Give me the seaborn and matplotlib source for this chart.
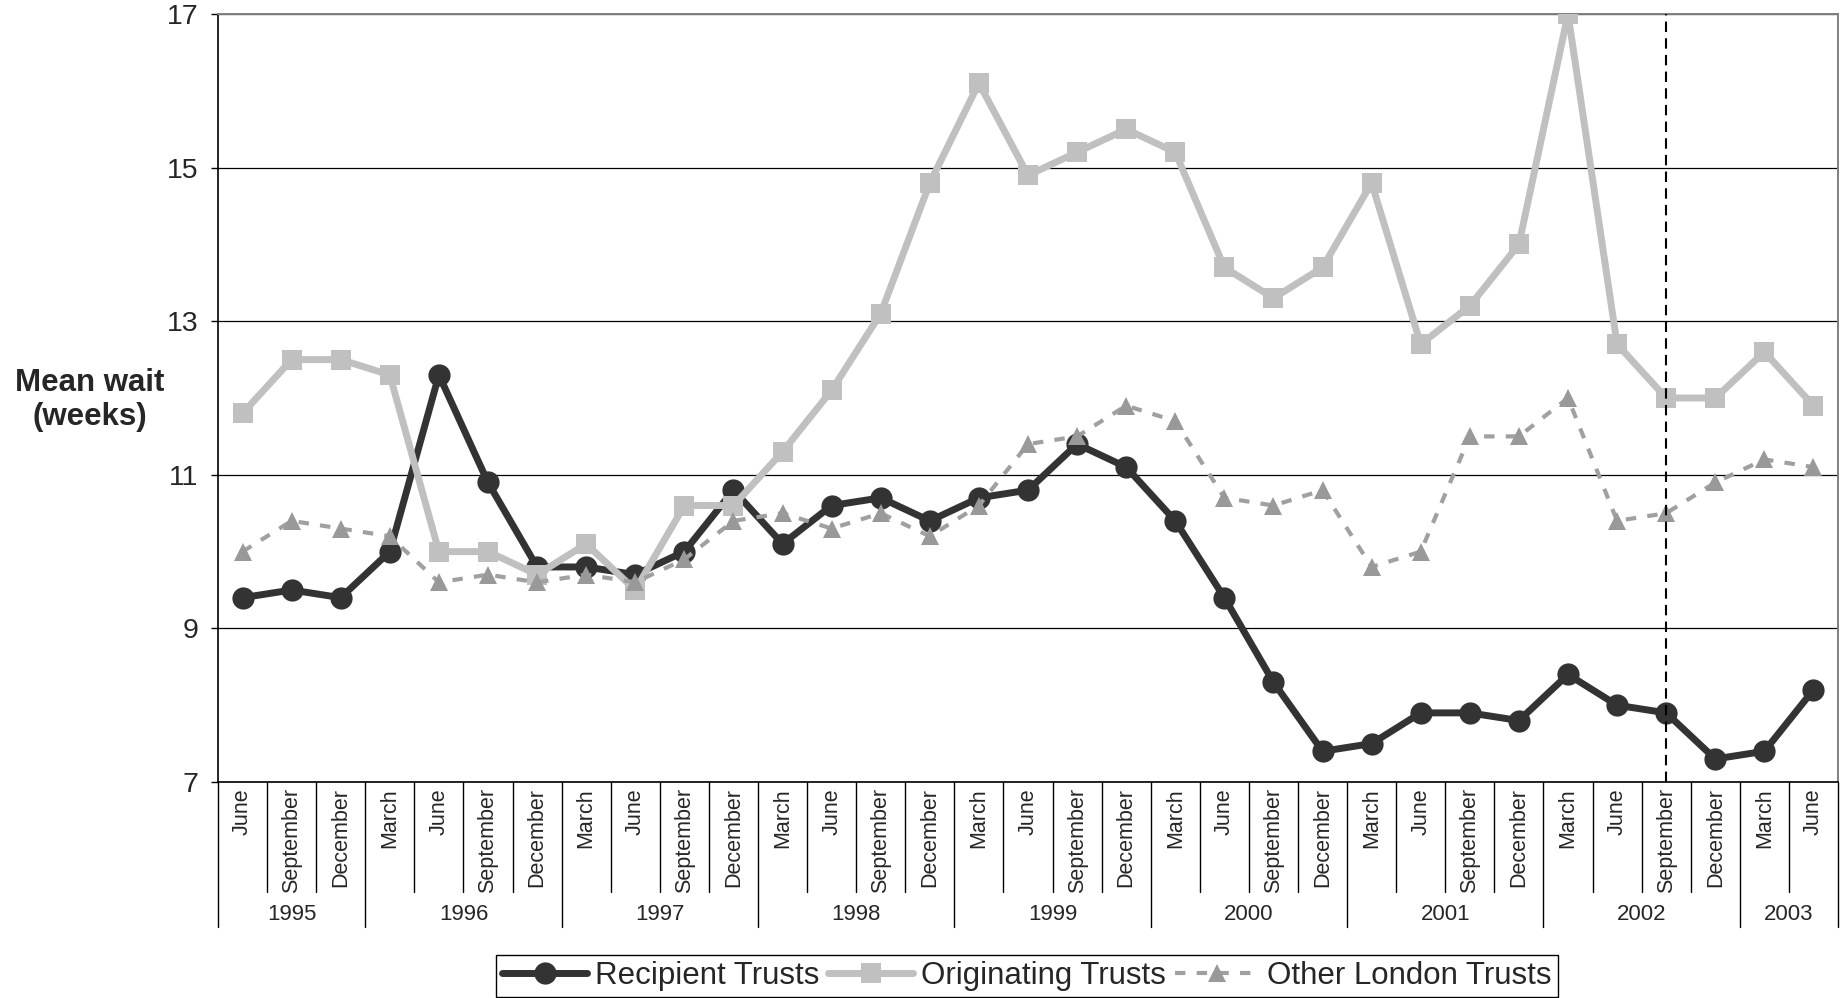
import matplotlib
matplotlib.use("Agg")
import matplotlib.pyplot as plt
import seaborn as sns
import numpy as np
import pandas as pd

# ---------------- data ----------------
months = ["June", "September", "December",
          "March", "June", "September", "December",
          "March", "June", "September", "December",
          "March", "June", "September", "December",
          "March", "June", "September", "December",
          "March", "June", "September", "December",
          "March", "June", "September", "December",
          "March", "June", "September", "December",
          "March", "June"]
years = ["1995", "1996", "1997", "1998", "1999", "2000", "2001", "2002", "2003"]
months_per_year = [3, 4, 4, 4, 4, 4, 4, 4, 2]

recipient = [9.4, 9.5, 9.4, 10.0, 12.3, 10.9, 9.8, 9.8, 9.7, 10.0, 10.8,
             10.1, 10.6, 10.7, 10.4, 10.7, 10.8, 11.4, 11.1, 10.4, 9.4, 8.3,
             7.4, 7.5, 7.9, 7.9, 7.8, 8.4, 8.0, 7.9, 7.3, 7.4, 8.2]
originating = [11.8, 12.5, 12.5, 12.3, 10.0, 10.0, 9.7, 10.1, 9.5, 10.6, 10.6,
               11.3, 12.1, 13.1, 14.8, 16.1, 14.9, 15.2, 15.5, 15.2, 13.7, 13.3,
               13.7, 14.8, 12.7, 13.2, 14.0, 17.0, 12.7, 12.0, 12.0, 12.6, 11.9]
other_london = [10.0, 10.4, 10.3, 10.2, 9.6, 9.7, 9.6, 9.7, 9.6, 9.9, 10.4,
                10.5, 10.3, 10.5, 10.2, 10.6, 11.4, 11.5, 11.9, 11.7, 10.7, 10.6,
                10.8, 9.8, 10.0, 11.5, 11.5, 12.0, 10.4, 10.5, 10.9, 11.2, 11.1]
series_names = ["Recipient Trusts", "Originating Trusts", "Other London Trusts"]
marker_index = 29  # September 2002 (dashed reference line)

# ---------------- style ----------------
sns.set_style("white")
plt.rcParams["font.family"] = ["Liberation Sans", "DejaVu Sans"]

W, H = 1847, 998
fig = plt.figure(figsize=(W / 100, H / 100), dpi=100)
L, R, T, B = 218, 1838, 14, 782
ax = fig.add_axes([L / W, 1 - B / H, (R - L) / W, (B - T) / H])

pos = np.arange(len(months))
df = pd.DataFrame({"pos": pos, "rec": recipient, "orig": originating, "oth": other_london})

sns.lineplot(data=df, x="pos", y="rec", ax=ax, color="#333333", linewidth=5,
             marker="o", markersize=16, markeredgewidth=0, legend=False, zorder=3)
sns.lineplot(data=df, x="pos", y="orig", ax=ax, color="#c0c0c0", linewidth=5,
             marker="s", markersize=15, markeredgewidth=0, legend=False, zorder=4)
sns.lineplot(data=df, x="pos", y="oth", ax=ax, color="#a0a0a0", linewidth=3,
             linestyle=(0, (2.5, 2.7)), marker="^", markersize=13,
             markerfacecolor="#999999", markeredgewidth=0, legend=False, zorder=5)
handles = list(ax.lines[:3])

ax.axvline(marker_index, color="black", lw=1.5, linestyle=(0, (5, 3)), zorder=6)

ax.set_xlim(-0.5, len(months) - 0.5)
ax.set_ylim(7, 17)
ax.set_yticks([7, 9, 11, 13, 15, 17])
ax.set_yticklabels(["7", "9", "11", "13", "15", "17"])
ax.yaxis.grid(True, color="black", lw=0.9)
ax.xaxis.grid(False)
ax.set_axisbelow(True)
ax.tick_params(axis="y", length=5, width=1, color="black", pad=9, labelsize=20.5,
               left=True)
ax.set_xticks(pos)
ax.set_xticklabels(months, rotation=90, fontsize=15.5)
ax.tick_params(axis="x", length=0, pad=4.5)
ax.set_xlabel("")
ax.set_ylabel("")

for side in ["left", "bottom"]:
    ax.spines[side].set_color("black")
    ax.spines[side].set_linewidth(1.2)
for side in ["top", "right"]:
    ax.spines[side].set_color("#808080")
    ax.spines[side].set_linewidth(1.4)
    ax.spines[side].set_visible(True)

# category separators below the axis
trans = ax.get_xaxis_transform()
ah = B - T
short = -(892 - B) / ah
long_ = -(927 - B) / ah
bounds = np.concatenate([[0], np.cumsum(months_per_year)]) - 0.5
for k in range(len(months) + 1):
    x = k - 0.5
    if np.any(np.isclose(bounds, x)):
        ax.plot([x, x], [0, long_], transform=trans, color="black", lw=1, clip_on=False)
    else:
        ax.plot([x, x], [0, short], transform=trans, color="black", lw=1, clip_on=False)
year_y = -(914 - B) / ah
for i, yr in enumerate(years):
    xc = (bounds[i] + bounds[i + 1]) / 2
    ax.text(xc, year_y, yr, transform=trans, ha="center", va="center", fontsize=16)

fig.text(90 / W, 1 - 400 / H, "Mean wait\n(weeks)", ha="center", va="center",
         fontsize=22.5, fontweight="bold", linespacing=1.2)

leg = fig.legend(handles, series_names, loc="lower center",
                 bbox_to_anchor=(1027 / W, 0.001), ncol=3, fontsize=22.5,
                 frameon=True, fancybox=False, edgecolor="black", framealpha=1,
                 handlelength=2.7, handletextpad=0.25, columnspacing=0.3,
                 borderpad=0.2, borderaxespad=0, numpoints=1)
leg.get_frame().set_linewidth(1)

fig.savefig("out.png", dpi=100)
